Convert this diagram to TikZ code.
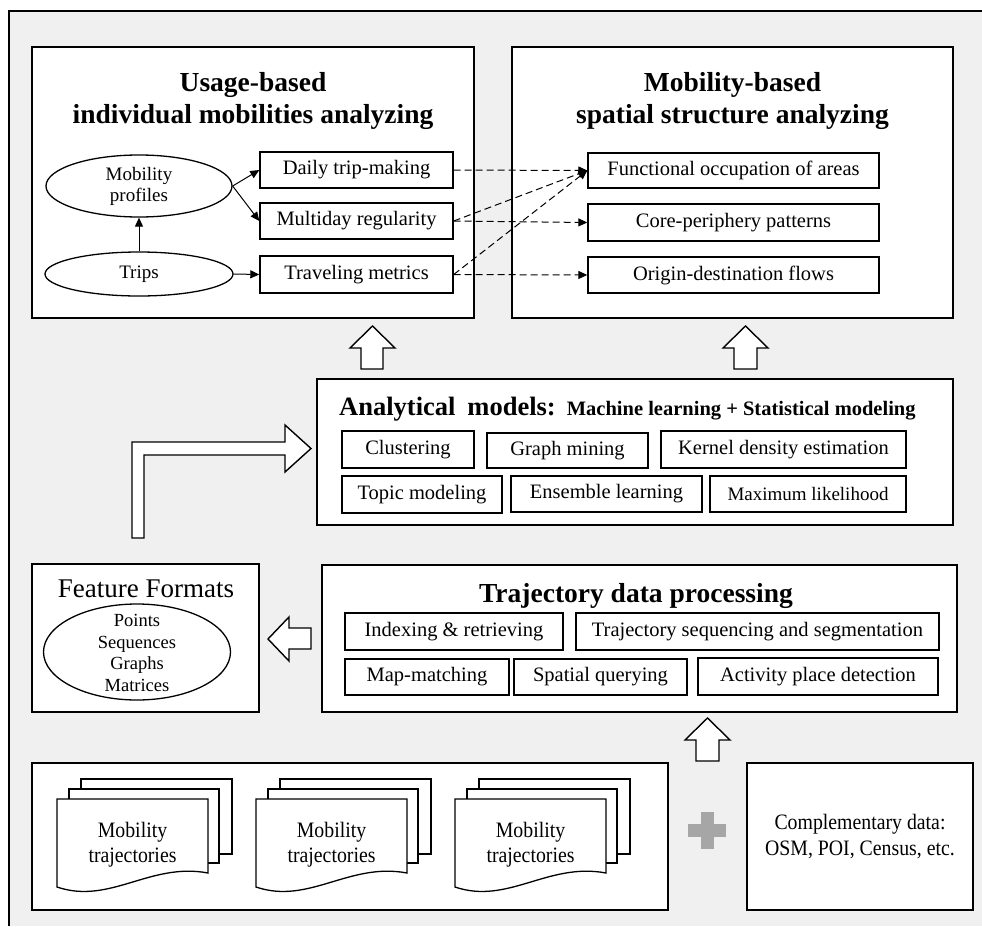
\documentclass[tikz,border=0pt]{standalone}
\usepackage{fontspec}
\setmainfont{Liberation Serif}
\newfontfamily\condserif[FakeStretch=0.9]{Liberation Serif}
\usetikzlibrary{shapes.geometric,arrows.meta}
\definecolor{bggray}{RGB}{240,240,240}
\definecolor{plusgray}{RGB}{166,166,166}
\newcommand\fsz[2]{\fontsize{#1}{#2}\selectfont}
\begin{document}
\begin{tikzpicture}[x=1pt,y=-1pt,
  bigbox/.style={draw, line width=2.5pt, fill=white, inner sep=0pt},
  smallbox/.style={draw, line width=1.4pt, fill=white, inner sep=0pt, font=\fsz{20.5}{24}},
  oval/.style={draw, ellipse, line width=1.3pt, fill=white, inner sep=0pt, align=center},
  titletext/.style={anchor=base, font=\fsz{27.5}{33}\bfseries, inner sep=0pt},
  solidarrow/.style={line width=1pt, -{Triangle[length=9pt,width=8pt]}},
  dasharrow/.style={line width=1pt, dash pattern=on 7pt off 4pt, -{Triangle[length=9pt,width=8pt]}},
  blockarrow/.style={draw, line width=1.4pt, fill=white, line join=miter},
  docpage/.style={draw, line width=1.3pt, fill=white, line join=miter},
]
\useasboundingbox (0,0) rectangle (982,926);
% frame
\fill[white] (0,0) rectangle (982,926);
\fill[bggray] (9,11) rectangle (982,926);
\draw[line width=2.5pt] (9,926) -- (9,11) -- (982,11);

% ---------- top-left box
\node[bigbox, minimum width=442pt, minimum height=271pt] (ub) at (253,182.5) {};
\node[titletext] (ubt1) at (253,91) {Usage-based};
\node[titletext] (ubt2) at (253,123) {individual mobilities analyzing};
\node[oval, minimum width=186pt, minimum height=62pt, font=\fsz{19}{21}] (mp) at (139,186) {Mobility\\profiles};
\node[oval, minimum width=188pt, minimum height=44pt, font=\fsz{19}{21}] (trips) at (139,274) {Trips};
\node[smallbox, minimum width=193pt, minimum height=36pt] (daily) at (356.5,170) {Daily trip-making};
\node[smallbox, minimum width=193pt, minimum height=36pt] (multi) at (356.5,221) {Multiday regularity};
\node[smallbox, minimum width=193pt, minimum height=37pt] (travel) at (356.5,274.5) {Traveling metrics};
\draw[solidarrow] (trips.north) -- (mp.south);
\draw[solidarrow] (mp.east) -- (daily.west);
\draw[solidarrow] (mp.east) -- (multi.west);
\draw[solidarrow] (trips.east) -- (travel.west);

% ---------- top-right box
\node[bigbox, minimum width=441pt, minimum height=271pt] (mb) at (732.5,182.5) {};
\node[titletext] (mbt1) at (732.5,91) {Mobility-based};
\node[titletext] (mbt2) at (732.5,123) {spatial structure analyzing};
\node[smallbox, minimum width=291pt, minimum height=35pt] (func) at (733.5,170.5) {Functional occupation of areas};
\node[smallbox, minimum width=291pt, minimum height=37pt] (core) at (733.5,222.5) {Core-periphery patterns};
\node[smallbox, minimum width=291pt, minimum height=36pt] (od) at (733.5,275) {Origin-destination flows};

\draw[dasharrow] (daily.east) -- (func.west);
\draw[dasharrow] (multi.east) -- (func.west);
\draw[dasharrow] (multi.east) -- (core.west);
\draw[dasharrow] (travel.east) -- (func.west);
\draw[dasharrow] (travel.east) -- (od.west);

% ---------- block arrows
\draw[blockarrow] (361,369) -- (361,348) -- (350,348) -- (372.5,326) -- (395,348) -- (383,348) -- (383,369) -- cycle;
\draw[blockarrow] (734,369) -- (734,348) -- (723,348) -- (745.5,326) -- (768,348) -- (757,348) -- (757,369) -- cycle;
\draw[blockarrow] (696,761) -- (696,740) -- (685,740) -- (707.5,718) -- (730,740) -- (719,740) -- (719,761) -- cycle;
\draw[blockarrow] (311,628) -- (289,628) -- (289,617) -- (268,639) -- (289,661) -- (289,649) -- (311,649) -- cycle;
\draw[blockarrow] (132,538) -- (132,442) -- (285,442) -- (285,425) -- (311,448.5) -- (285,472) -- (285,455) -- (144,455) -- (144,538) -- cycle;

% ---------- analytical models
\node[bigbox, minimum width=636pt, minimum height=146pt] (am) at (635,452) {};
\node[anchor=base west, inner sep=0pt, font=\bfseries] (amt) at (339,415)
  {{\fsz{26.5}{30}Analytical\hspace{12pt}models:}\hspace{11pt}{\fsz{20.5}{24}Machine learning + Statistical modeling}};
\node[smallbox, minimum width=132pt, minimum height=37pt] (clus) at (408,449.5) {Clustering};
\node[smallbox, minimum width=161pt, minimum height=35pt] (graph) at (567.5,450.5) {Graph mining};
\node[smallbox, minimum width=245pt, minimum height=37pt] (kernel) at (783.5,449.5) {Kernel density estimation};
\node[smallbox, minimum width=160pt, minimum height=37pt] (topic) at (422,494.5) {Topic modeling};
\node[smallbox, minimum width=191pt, minimum height=36pt] (ens) at (606.5,494) {Ensemble learning};
\node[smallbox, minimum width=196pt, minimum height=36pt, font=\fsz{19}{22}] (maxl) at (808,494) {Maximum likelihood};

% ---------- feature formats
\node[bigbox, minimum width=227pt, minimum height=148pt] (ff) at (145.5,638) {};
\node[anchor=base, inner sep=0pt, font=\fsz{27}{32}] (fft) at (146,597) {Feature Formats};
\node[oval, minimum width=187pt, minimum height=96pt] (ffe) at (137,652) {};
\node[align=center, inner sep=0pt, font=\fsz{18.5}{21.7}] (ffet) at (137,653) {Points\\Sequences\\Graphs\\Matrices};

% ---------- trajectory data processing
\node[bigbox, minimum width=635pt, minimum height=147pt] (td) at (639.5,638.5) {};
\node[titletext] (tdt) at (636,602) {Trajectory data processing};
\node[smallbox, minimum width=218pt, minimum height=37pt] (idx) at (454,631.5) {Indexing \& retrieving};
\node[smallbox, minimum width=363pt, minimum height=37pt] (tseq) at (757.5,631.5) {Trajectory sequencing and segmentation};
\node[smallbox, minimum width=164pt, minimum height=36pt] (map) at (427,677) {Map-matching};
\node[smallbox, minimum width=173pt, minimum height=36pt] (spat) at (600.5,677) {Spatial querying};
\node[smallbox, minimum width=240pt, minimum height=37pt] (act) at (818,676.5) {Activity place detection};

% ---------- data sources
\node[bigbox, minimum width=636pt, minimum height=147pt] (ds) at (350,836.5) {};
\foreach \o/\n in {0/1,199/2,398/3}{
  \begin{scope}[xshift=\o pt]
    \filldraw[docpage] (81,779) rectangle (232,854);
    \filldraw[docpage] (69,789) rectangle (219,863);
    \filldraw[docpage] (57,799) -- (208,799) -- (208,873) .. controls (150,862) and (110,905) .. (57,887) -- cycle;
    \node[align=center, inner sep=0pt, font=\condserif\fsz{22}{25}] (doc\n) at (132.5,845) {Mobility\\trajectories};
  \end{scope}
}
\fill[plusgray] (688,824) rectangle (726,837);
\fill[plusgray] (700.5,811.5) rectangle (713.5,848.5);
\node[bigbox, minimum width=226pt, minimum height=147pt, align=center, font=\condserif\fsz{22}{26}] (cd) at (860,836.5) {Complementary data:\\OSM, POI, Census, etc.};
\end{tikzpicture}
\end{document}
